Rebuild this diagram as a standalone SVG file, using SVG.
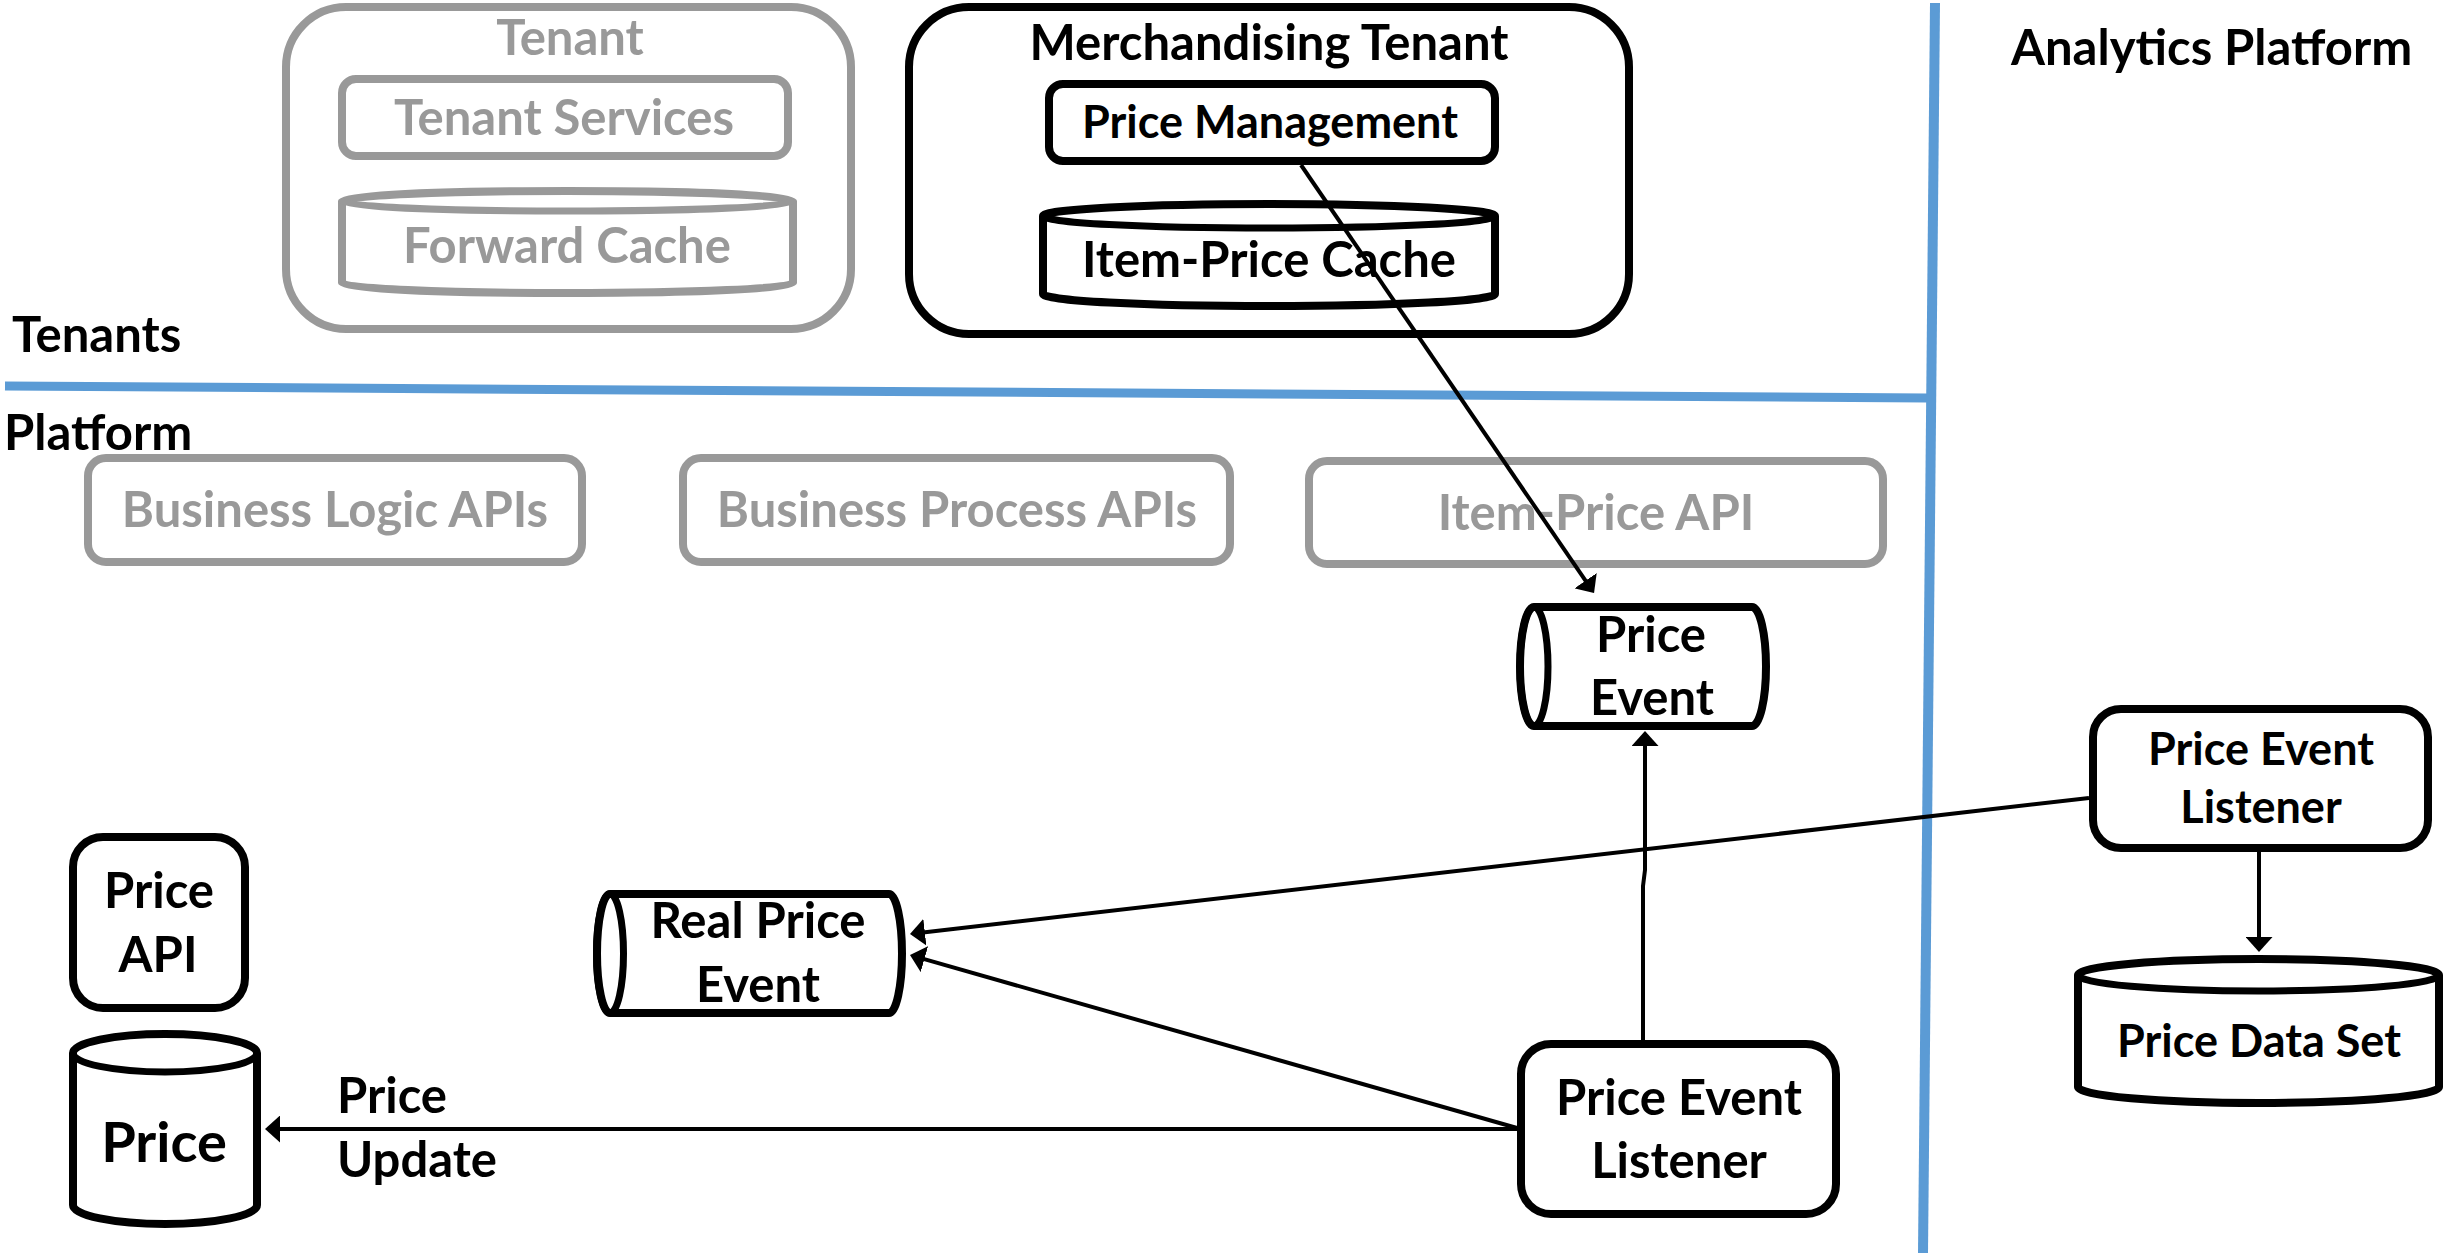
<svg xmlns="http://www.w3.org/2000/svg" width="2458" height="1253" viewBox="0 0 2458 1253">
<defs>
<style>
text{font-family:Lato,"Open Sans","Liberation Sans",sans-serif;font-weight:700;}
.t{font-size:49px;fill:#000;text-anchor:middle;}
.tl{font-size:49px;fill:#000;}
.ts{font-size:45px;fill:#000;text-anchor:middle;}
.g{font-size:49px;fill:#999;text-anchor:middle;}
.bx{fill:#fff;stroke:#000;stroke-width:8;}
.gx{fill:#fff;stroke:#999;stroke-width:8;}
.ln{fill:none;stroke:#000;stroke-width:7;}
.gl{fill:none;stroke:#999;stroke-width:7;}
.c{fill:none;stroke:#000;stroke-width:4;}
.sep{fill:none;stroke:#5B9BD5;stroke-width:9;}
</style>
<marker id="ah" viewBox="0 0 15 27" markerWidth="15" markerHeight="27" refX="2" refY="13.5" markerUnits="userSpaceOnUse" orient="auto">
<path d="M0,0 L15,13.5 L0,27 z" fill="#000"/>
</marker>
</defs>
<rect width="2458" height="1253" fill="#fff"/>

<g id="separators">
<line class="sep" x1="5" y1="386" x2="1927" y2="398"/>
<line class="sep" x1="1935" y1="3" x2="1923" y2="1253" style="stroke-width:10"/>
</g>

<g id="zone-labels">
<text class="tl" x="12" y="352">Tenants</text>
<text class="tl" x="4" y="450">Platform</text>
<text class="tl" x="2011" y="65">Analytics Platform</text>
</g>

<g id="tenant">
<rect class="gx" x="286" y="7" width="565" height="322" rx="60"/>
<text class="g" x="570" y="55">Tenant</text>
</g>
<g id="tenant-services">
<rect class="gx" x="342" y="79" width="446" height="77" rx="14"/>
<text class="g" x="564" y="135">Tenant Services</text>
</g>
<g id="forward-cache">
<path class="gx" d="M342,201 A225.5,10 0 0,1 793,201 L793,283 A225.5,10 0 0,1 342,283 Z"/>
<path class="gl" d="M342,201 A225.5,10 0 0,0 793,201"/>
<text class="g" x="567" y="263">Forward Cache</text>
</g>

<g id="merchandising-tenant">
<rect class="bx" x="909" y="7" width="720" height="327" rx="60"/>
<text class="t" x="1269" y="60">Merchandising Tenant</text>
</g>
<g id="price-management">
<rect class="bx" x="1049" y="84" width="446" height="77" rx="14"/>
<text class="ts" x="1270" y="138">Price Management</text>
</g>
<g id="item-price-cache">
<path class="bx" d="M1043,216 A226,12 0 0,1 1495,216 L1495,294 A226,12 0 0,1 1043,294 Z"/>
<path class="ln" d="M1043,216 A226,12 0 0,0 1495,216"/>
<text class="t" x="1269" y="277">Item-Price Cache</text>
</g>

<g id="business-logic-apis">
<rect class="gx" x="88" y="458" width="494" height="104" rx="18"/>
<text class="g" x="335" y="527">Business Logic APIs</text>
</g>
<g id="business-process-apis">
<rect class="gx" x="683" y="458" width="547" height="104" rx="18"/>
<text class="g" x="957" y="527">Business Process APIs</text>
</g>
<g id="item-price-api">
<rect class="gx" x="1309" y="461" width="574" height="103" rx="18"/>
<text class="g" x="1596" y="530">Item-Price API</text>
</g>

<g id="price-event">
<path class="bx" d="M1534,607 L1752,607 A14,59.5 0 0,1 1752,726 L1534,726 A14,59.5 0 0,1 1534,607 Z"/>
<ellipse class="ln" cx="1534" cy="666.5" rx="14" ry="59.5"/>
<text class="t" x="1651" y="652">Price</text>
<text class="t" x="1652" y="715">Event</text>
</g>

<g id="real-price-event">
<path class="bx" d="M610,894 L889,894 A13,59.5 0 0,1 889,1013 L610,1013 A13,59.5 0 0,1 610,894 Z"/>
<ellipse class="ln" cx="610" cy="953.5" rx="13.5" ry="59.5"/>
<text class="t" x="758" y="938">Real Price</text>
<text class="t" x="758" y="1002">Event</text>
</g>

<g id="price-api">
<rect class="bx" x="73" y="837" width="172" height="171" rx="30"/>
<text class="t" x="159" y="908">Price</text>
<text class="t" x="158" y="972">API</text>
</g>

<g id="price-db">
<path class="bx" d="M73,1053 A92,19 0 0,1 257,1053 L257,1205 A92,19 0 0,1 73,1205 Z"/>
<path class="ln" d="M73,1053 A92,19 0 0,0 257,1053"/>
<text class="t" x="164" y="1162" style="font-size:56px">Price</text>
</g>

<g id="price-event-listener">
<rect class="bx" x="1521" y="1044" width="315" height="170" rx="30"/>
<text class="t" x="1679" y="1115">Price Event</text>
<text class="t" x="1679" y="1178">Listener</text>
</g>

<g id="analytics-price-event-listener">
<rect class="bx" x="2093" y="709" width="335" height="139" rx="28"/>
<text class="ts" x="2261" y="765">Price Event</text>
<text class="ts" x="2261" y="823">Listener</text>
</g>

<g id="price-data-set">
<path class="bx" d="M2078,975 A180.5,16 0 0,1 2439,975 L2439,1087 A180.5,16 0 0,1 2078,1087 Z"/>
<path class="ln" d="M2078,975 A180.5,16 0 0,0 2439,975"/>
<text class="ts" x="2259" y="1057">Price Data Set</text>
</g>

<g id="connectors">
<path class="c" d="M1301,165 L1586.7,582.3" marker-end="url(#ah)"/>
<path class="c" d="M1643,1040 L1643,886 L1645,870 L1645,744" marker-end="url(#ah)"/>
<path class="c" d="M2089,798 L922.9,932.5" marker-end="url(#ah)"/>
<path class="c" d="M1517,1128 L922.5,958.6" marker-end="url(#ah)"/>
<path class="c" d="M1517,1129 L278,1129" marker-end="url(#ah)"/>
<path class="c" d="M2259,852 L2259,939" marker-end="url(#ah)"/>
<text class="tl" x="337" y="1113">Price</text>
<text class="tl" x="337" y="1177">Update</text>
</g>
</svg>
